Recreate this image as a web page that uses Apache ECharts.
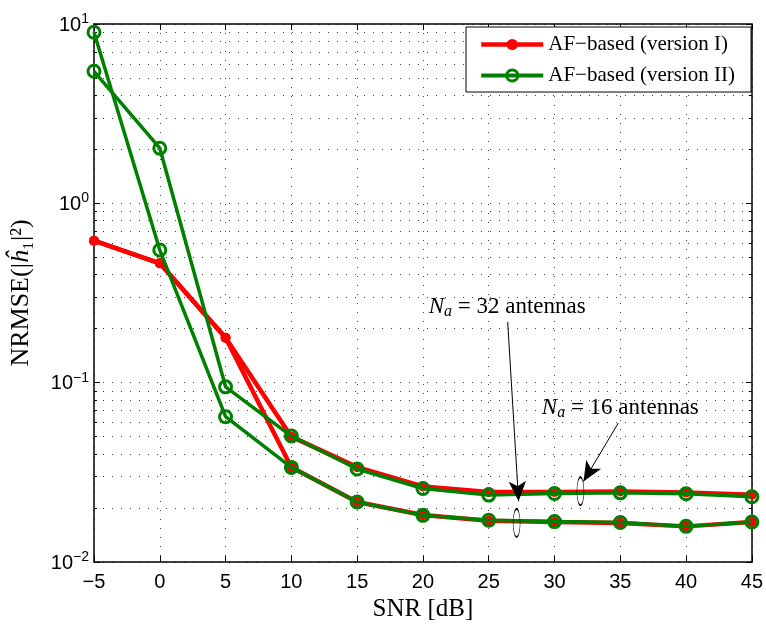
<!DOCTYPE html>
<html>
<head>
<meta charset="utf-8">
<script src="https://cdn.jsdelivr.net/npm/echarts@6/dist/echarts.min.js"></script>
<style>html,body{margin:0;padding:0;background:#fff;}#c{width:766px;height:632px;}</style>
</head>
<body>
<div id="c"></div>
<script>
// ---- data ----
const snr = [-5, 0, 5, 10, 15, 20, 25, 30, 35, 40, 45];
const v1Na16 = [0.619, 0.463, 0.178, 0.0500, 0.0338, 0.0264, 0.0246, 0.0246, 0.0247, 0.0244, 0.0237];
const v1Na32 = [0.619, 0.463, 0.178, 0.0338, 0.0216, 0.0183, 0.0170, 0.0167, 0.0165, 0.0158, 0.0167];
const v2Na16 = [5.45, 2.03, 0.0948, 0.0504, 0.0330, 0.0257, 0.0236, 0.0241, 0.0243, 0.0240, 0.0231];
const v2Na32 = [9.0, 0.549, 0.0646, 0.0337, 0.0216, 0.0182, 0.0171, 0.0168, 0.0166, 0.0158, 0.0167];
const legendNames = ['AF\u2212based (version I)', 'AF\u2212based (version II)'];
const xTickMin = -5, xTickMax = 45, xTickStep = 5;
const yMin = 0.01, yMax = 10;
// annotations (data coordinates)
const ann32Text = [26.4, 0.264];
const ann32Arrow = [[26.44, 0.218], [27.27, 0.0218]];
const ann32Ellipse = [27.12, 0.0165];
const ann16Text = [35.0, 0.0722];
const ann16Arrow = [[34.85, 0.0596], [32.2, 0.0281]];
const ann16Ellipse = [31.97, 0.0248];

const pair = arr => snr.map((x, i) => [x, arr[i]]);

const RED = '#ff0000', GREEN = '#008000';
const serif = 'Liberation Serif';
const sans = 'Liberation Sans';
const gridDot = { color: '#444', width: 1, type: [1, 8] };

const chart = echarts.init(document.getElementById('c'), null, { renderer: 'canvas' });

function supLabel(v) {
  const e = Math.round(Math.log10(v));
  return '{b|10}{s|' + (e < 0 ? '\u2212' + (-e) : e) + '}';
}
const labelRich = {
  b: { fontFamily: sans, fontSize: 20, color: '#000', verticalAlign: 'bottom', lineHeight: 22 },
  s: { fontFamily: sans, fontSize: 14, color: '#000', verticalAlign: 'bottom', lineHeight: 22, padding: [0, 0, 9, 0] }
};

const redSeries = (data) => ({
  name: legendNames[0], type: 'line', data: pair(data),
  symbol: 'circle', symbolSize: 10, showSymbol: true,
  lineStyle: { color: RED, width: 4.5 },
  itemStyle: { color: RED },
  z: 2, animation: false
});
const greenSeries = (data) => ({
  name: legendNames[1], type: 'line', data: pair(data),
  symbol: 'circle', symbolSize: 12, showSymbol: true,
  lineStyle: { color: GREEN, width: 3.5 },
  itemStyle: { color: 'rgba(255,255,255,0)', borderColor: GREEN, borderWidth: 3 },
  z: 3, animation: false
});

const ellipsePath = 'path://M0,10A10,10,0,1,0,20,10A10,10,0,1,0,0,10Z';
const annoRich = {
  i: { fontFamily: serif, fontStyle: 'italic', fontSize: 23, color: '#000' },
  sub: { fontFamily: serif, fontStyle: 'italic', fontSize: 16, color: '#000', padding: [9, 0, 0, 0] },
  t: { fontFamily: serif, fontSize: 23, color: '#000' }
};
const nameRich = {
  r: { fontFamily: serif, fontSize: 26, color: '#000' },
  h: { fontFamily: serif, fontStyle: 'italic', fontSize: 26, color: '#000' }
};

const option = {
  animation: false,
  backgroundColor: '#fff',
  grid: { left: 94, right: 12, top: 24, bottom: 70, containLabel: false },
  legend: {
    data: [
      { name: legendNames[0], lineStyle: { color: RED, width: 4.5 }, itemStyle: { color: RED } },
      { name: legendNames[1], lineStyle: { color: GREEN, width: 4 },
        itemStyle: { color: 'rgba(255,255,255,0)', borderColor: GREEN, borderWidth: 3 } }
    ],
    orient: 'vertical', left: 466, top: 27,
    backgroundColor: '#fff', borderColor: '#000', borderWidth: 1,
    padding: [7, 16, 6, 13], itemWidth: 62, itemHeight: 14, itemGap: 10,
    textStyle: { fontFamily: serif, fontSize: 21, color: '#000' }
  },
  xAxis: [{
    type: 'value', min: xTickMin, max: xTickMax, interval: xTickStep,
    name: 'SNR [dB]', nameLocation: 'middle', nameGap: 34,
    nameTextStyle: { fontFamily: serif, fontSize: 25, color: '#000' },
    axisLine: { show: true, onZero: false, lineStyle: { color: '#000', width: 1.5 } },
    axisTick: { show: true, inside: true, length: 6, lineStyle: { color: '#000' } },
    axisLabel: { fontFamily: sans, fontSize: 20, color: '#000', margin: 10,
      formatter: v => (v < 0 ? '\u2212' + (-v) : String(v)) },
    splitLine: { show: true, lineStyle: gridDot }
  }, {
    type: 'value', position: 'top', min: xTickMin, max: xTickMax, interval: xTickStep,
    axisLine: { show: true, onZero: false, lineStyle: { color: '#000', width: 1.5 } },
    axisTick: { show: true, inside: true, length: 6, lineStyle: { color: '#000' } },
    axisLabel: { show: false }, splitLine: { show: false }
  }],
  yAxis: [{
    type: 'log', logBase: 10, min: yMin, max: yMax,
    name: '{r|NRMSE(|}{h|\u0125}{r|\u2081|\u00b2)}', nameLocation: 'middle', nameGap: 60, nameRotate: 90,
    nameTextStyle: { fontFamily: serif, fontSize: 26, color: '#000', rich: nameRich },
    axisLine: { show: true, onZero: false, lineStyle: { color: '#000', width: 1.5 } },
    axisTick: { show: true, inside: true, length: 6, lineStyle: { color: '#000' } },
    minorTick: { show: true, splitNumber: 9, length: 3, lineStyle: { color: '#000' } },
    minorSplitLine: { show: true, lineStyle: gridDot },
    axisLabel: { margin: 5, formatter: supLabel, rich: labelRich },
    splitLine: { show: true, lineStyle: gridDot }
  }, {
    type: 'log', logBase: 10, min: yMin, max: yMax, position: 'right',
    axisLine: { show: true, onZero: false, lineStyle: { color: '#000', width: 1.5 } },
    axisTick: { show: true, inside: true, length: 6, lineStyle: { color: '#000' } },
    minorTick: { show: true, splitNumber: 9, length: 3, lineStyle: { color: '#000' } },
    axisLabel: { show: false }, splitLine: { show: false }
  }],
  series: [
    redSeries(v1Na16), redSeries(v1Na32),
    greenSeries(v2Na16), greenSeries(v2Na32),
    {
      name: 'annotations', type: 'line', data: [], silent: true, z: 5,
      markLine: {
        silent: true, animation: false,
        symbol: ['none', 'arrow'], symbolSize: [13, 20],
        lineStyle: { color: '#000', width: 1, type: 'solid' },
        label: { show: false },
        data: [
          [{ coord: ann32Arrow[0] }, { coord: ann32Arrow[1] }],
          [{ coord: ann16Arrow[0] }, { coord: ann16Arrow[1] }]
        ]
      },
      markPoint: {
        silent: true, animation: false,
        data: [
          { coord: ann32Ellipse, symbol: ellipsePath, symbolSize: [7, 28],
            itemStyle: { color: 'rgba(0,0,0,0)', borderColor: '#000', borderWidth: 1 }, label: { show: false } },
          { coord: ann16Ellipse, symbol: ellipsePath, symbolSize: [7, 28],
            itemStyle: { color: 'rgba(0,0,0,0)', borderColor: '#000', borderWidth: 1 }, label: { show: false } },
          { coord: ann32Text, symbol: 'circle', symbolSize: 1, itemStyle: { color: 'rgba(0,0,0,0)' },
            label: { show: true, position: 'inside', formatter: '{i|N}{sub|a}{t| = 32 antennas}', rich: annoRich } },
          { coord: ann16Text, symbol: 'circle', symbolSize: 1, itemStyle: { color: 'rgba(0,0,0,0)' },
            label: { show: true, position: 'inside', formatter: '{i|N}{sub|a}{t| = 16 antennas}', rich: annoRich } }
        ]
      }
    }
  ]
};
chart.setOption(option);
</script>
</body>
</html>
